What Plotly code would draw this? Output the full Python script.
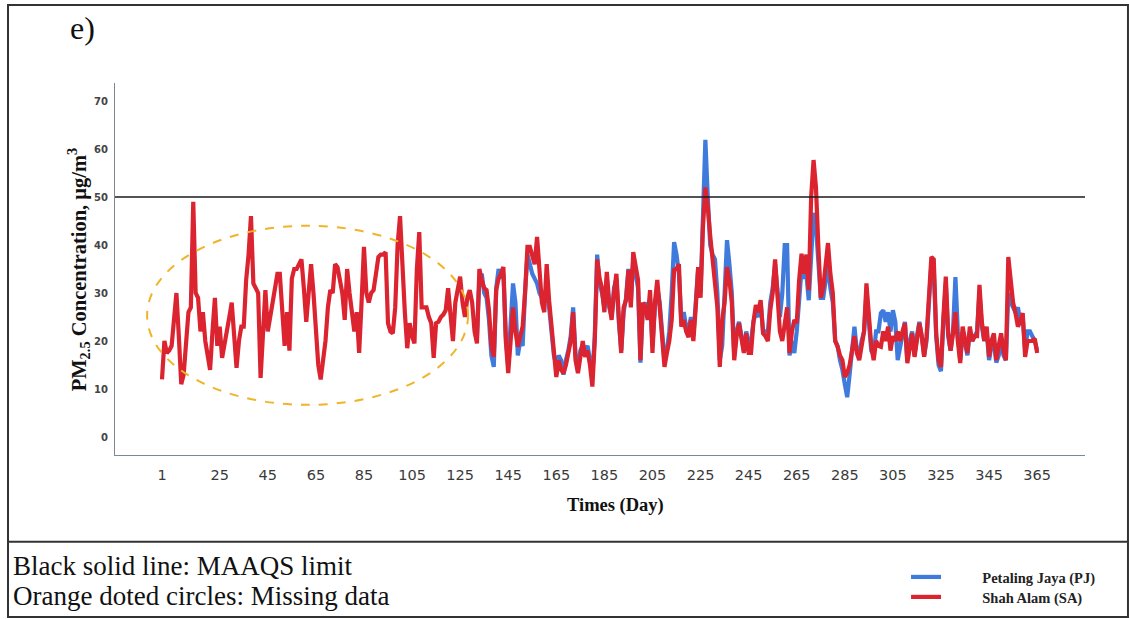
import plotly.graph_objects as go

# ---------------- data ----------------
days = list(range(1, 366))
sa_values = [
    12, 20, 17.5, 18, 19, 25, 30, 21, 11, 13,
    20, 26, 27, 49, 30, 29, 22, 26, 20, 17,
    14, 22, 29, 19, 23, 16.5, 19, 22, 25, 28,
    21, 14.4, 20, 23, 23, 32.7, 38, 46, 32, 31,
    30, 12.3, 20, 30.6, 22, 25, 27, 31, 34, 34,
    25, 19, 26, 18, 33, 35, 35, 36, 37, 31,
    24, 30, 36, 30, 22, 15, 12, 16, 20, 27,
    30.6, 30, 36, 35.4, 33, 30, 24.4, 35, 30, 26,
    22, 26, 17.5, 28, 39.6, 30, 28, 30, 30.6, 34,
    37.5, 38, 38, 38.5, 23.7, 22, 21.6, 27, 40, 46,
    34, 26, 18.5, 23.7, 21, 19.5, 35, 42.7, 27, 27,
    27, 25, 23.7, 16.5, 23.7, 24, 25, 25.5, 26.4, 31,
    24, 20, 28, 30.6, 33.4, 28, 25, 29, 30.6, 28,
    22, 19.5, 35, 32.7, 31, 30.6, 26.4, 19, 16.7, 30.6,
    33, 34, 35.4, 20, 13.3, 20, 27, 22, 18.8, 21,
    23, 30, 39.6, 39.6, 38, 36, 41.7, 33.4, 28, 26,
    36, 28.5, 23.7, 18, 12.5, 16, 14, 13.3, 15, 17.5,
    20, 26, 16, 13.3, 17, 20, 16.7, 18, 15, 10.5,
    20, 37, 33, 31, 26, 34.4, 28, 24.4, 30, 34,
    25, 17.5, 27, 28.5, 34.8, 27, 38.5, 35, 32.7, 16,
    28, 27, 24.4, 30.6, 17.5, 28, 32.7, 27, 20, 14.6,
    17.5, 20, 24.4, 34.8, 35, 36, 23, 24.4, 22, 20.8,
    24.4, 20, 27, 35.4, 29, 43.7, 52, 48, 42, 36.9,
    33, 27, 14.6, 24.4, 28, 35.4, 32.7, 28, 16, 21,
    23.7, 20.8, 17.5, 21.6, 17.5, 17.5, 24, 27.5, 26, 28.5,
    21.6, 21, 20, 26.4, 30, 37, 30, 22, 20, 24.4,
    27, 17.5, 22, 24.4, 23.7, 32.7, 38.2, 34, 38, 30.6,
    50, 57.7, 52, 39.6, 29, 31, 36, 40.4, 34, 30,
    20, 18.8, 17, 16, 12.5, 13.3, 15, 18.8, 21, 17.5,
    16, 19, 22, 32, 24.4, 19, 16, 20, 19, 18.8,
    22, 20, 23, 18, 21, 20, 22, 20, 22, 23.7,
    15.4, 19, 21.6, 16.7, 21, 23.7, 21, 16.7, 21, 30,
    37.5, 37, 21.6, 16, 14.6, 25, 33.4, 21.6, 18, 21.6,
    26, 20, 15.4, 23, 20, 17.5, 23, 20, 21, 21,
    31.7, 24, 20, 23, 16.7, 20, 21.6, 16, 19, 21.6,
    18, 16, 37.5, 33, 28, 25.8, 23, 24, 25.8, 16.7,
    20, 20, 20, 20.5, 17.5,
]

pj_days = list(range(131, 366))   # PJ data missing before day 131
pj_values = [
    23, 21, 33, 34, 30, 29, 24.4, 17, 14.6, 31,
    35, 33, 34, 21, 15, 24, 32, 28, 17, 20,
    19, 30, 38, 36, 34, 33, 32, 30, 29, 28,
    32, 27, 22, 17, 15, 17, 16, 13, 16, 18,
    21, 27, 17, 14, 18, 19, 18, 19, 16, 13,
    21, 38, 32, 30, 27, 33, 27, 25, 31, 33,
    24, 18, 26, 29, 35, 28, 37, 34, 31, 15.5,
    27, 28, 26, 29, 19, 27, 31, 28, 21, 16,
    18, 22, 30, 40.6, 38, 34, 24, 26, 23, 22,
    25, 21, 28, 35, 30, 48, 61.9, 50, 40, 38,
    37, 30, 16, 19, 30, 41, 36, 30, 17, 22,
    24, 21, 18, 22, 19, 20, 24, 26, 25, 28,
    22, 22, 22, 28, 31, 36, 31, 25, 30, 40,
    40, 17, 20, 17.5, 22, 30, 35, 33, 34, 28.5,
    40, 46.7, 44, 36, 29, 29, 32, 36, 31, 28,
    20, 19, 16, 14, 11, 8.3, 13, 18, 23, 18,
    17, 20, 22, 30, 24, 18, 17, 22, 22, 25.8,
    26.4, 24, 26, 22, 26.4, 24, 16, 19, 22, 24,
    16, 20, 22, 17, 21, 24, 21, 17, 20, 29,
    36, 35, 21, 15, 13.7, 24, 32, 21, 18, 22,
    33.3, 22, 16, 22, 19, 17, 22, 20, 21, 22,
    30, 23, 20, 22, 16, 19, 20, 15.5, 17, 20,
    17, 16, 30, 28, 27, 26, 27, 24, 25, 18,
    22, 22, 21, 20, 18,
]

maaqs_limit = 50
missing_window_days = [-5.2, 128.3]
missing_window_conc = [6.7, 44.0]

x_tick_labels = [1, 25, 45, 65, 85, 105, 125, 145, 165, 185, 205, 225, 245,
                 265, 285, 305, 325, 345, 365]
y_ticks = [0, 10, 20, 30, 40, 50, 60, 70]

assert len(sa_values) == len(days)
assert len(pj_values) == len(pj_days)

# ---------------- figure ----------------
SERIF = "Liberation Serif"
RED = "#dc2430"
BLUE = "#3f7bdc"
GAP = "\u2003\u2003\u2002"   # visual gap between legend swatch and label

fig = go.Figure()
fig.add_trace(go.Scatter(
    x=pj_days, y=pj_values, mode="lines", name=GAP + "Petaling Jaya (PJ)",
    line=dict(color=BLUE, width=4.2), legend="legend",
))
fig.add_trace(go.Scatter(
    x=days, y=sa_values, mode="lines", name=GAP + "Shah Alam (SA)",
    line=dict(color=RED, width=4.2), legend="legend2",
))

# MAAQS limit line
fig.add_hline(y=maaqs_limit, line=dict(color="#1a1a1a", width=1.6))

# Missing-data ellipse
fig.add_shape(type="circle", xref="x", yref="y",
              x0=missing_window_days[0], x1=missing_window_days[1],
              y0=missing_window_conc[0], y1=missing_window_conc[1],
              line=dict(color="#f0b429", width=2, dash="dash"))

# Outer frame and caption divider (paper coordinates)
fig.add_shape(type="rect", xref="paper", yref="paper",
              x0=-0.1103, x1=1.0443, y0=-0.4355, y1=1.2097,
              line=dict(color="#333", width=2), layer="below")
fig.add_shape(type="line", xref="paper", yref="paper",
              x0=-0.1103, x1=1.0443, y0=-0.2331, y1=-0.2331,
              line=dict(color="#333", width=2))

annotations = [
    dict(text="e)", x=-0.034, y=1.148, font=dict(family=SERIF, size=32, color="#111")),
    dict(text="PM<sub>2.5</sub> Concentration, μg/m<sup>3</sup>", x=-0.038, y=0.497,
         textangle=-90, font=dict(family=SERIF, size=20.5, color="#111", weight="bold")),
    dict(text="Times (Day)", x=0.5155, y=-0.137,
         font=dict(family=SERIF, size=18.5, color="#111", weight="bold")),
    dict(text="Black solid line: MAAQS limit", x=-0.1072, y=-0.2984, xanchor="left",
         font=dict(family=SERIF, size=27, color="#111")),
    dict(text="Orange doted circles: Missing data", x=-0.1072, y=-0.379, xanchor="left",
         font=dict(family=SERIF, size=27, color="#111")),
]
for a in annotations:
    a.setdefault("xanchor", "center")
    a.update(xref="paper", yref="paper", yanchor="middle", showarrow=False)
fig.update_layout(annotations=annotations)

fig.update_xaxes(
    range=[-18.55, 384.9], tickmode="array", tickvals=x_tick_labels,
    ticktext=[str(v) for v in x_tick_labels],
    showgrid=False, zeroline=False, showline=True, linecolor="#7c8896", linewidth=1.2,
    ticks="", ticklabelstandoff=6,
    tickfont=dict(family="DejaVu Sans", size=14.5, color="#3a3a3a"),
)
fig.update_yaxes(
    range=[-3.75, 73.75], tickmode="array", tickvals=y_ticks,
    showgrid=False, zeroline=False, showline=True, linecolor="#7c8896", linewidth=1.2,
    ticks="", ticklabelstandoff=4,
    tickfont=dict(family="DejaVu Sans", size=10, color="#444", weight="bold"),
)

legend_style = dict(xanchor="left", yanchor="middle", bgcolor="rgba(0,0,0,0)",
                    itemwidth=30,
                    font=dict(family=SERIF, size=14.5, color="#222", weight="bold"))

fig.update_layout(
    width=1130, height=619,
    margin=dict(l=115, r=45, t=83, b=164, autoexpand=False),
    paper_bgcolor="white", plot_bgcolor="white",
    showlegend=True,
    legend=dict(x=0.8155, y=-0.328, **legend_style),
    legend2=dict(x=0.8155, y=-0.3817, **legend_style),
)

fig.write_html("out.html")
